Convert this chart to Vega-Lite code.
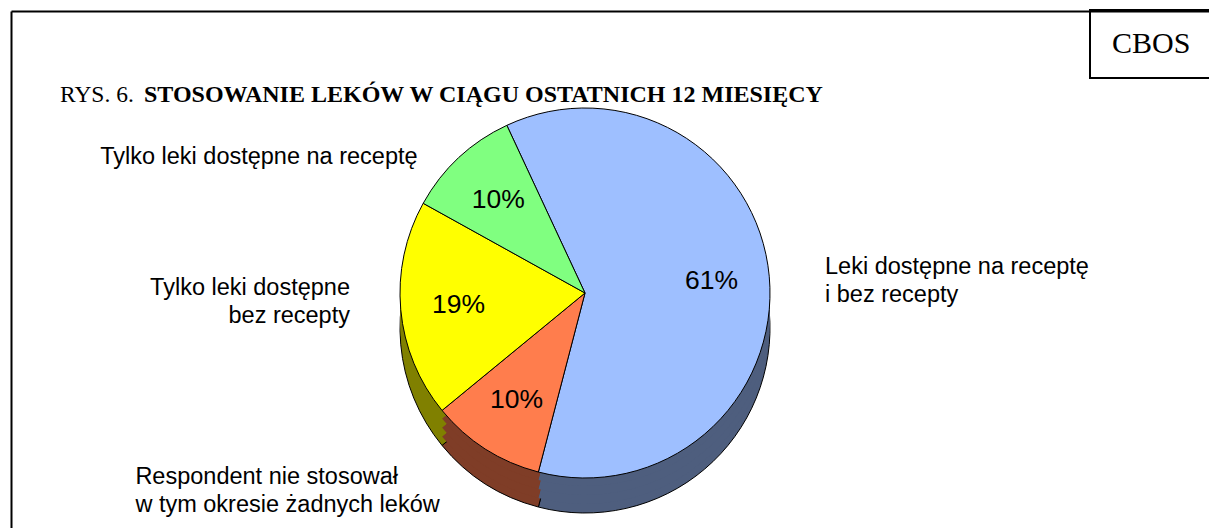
{
  "$schema": "https://vega.github.io/schema/vega-lite/v6.json",
  "width": 1198,
  "height": 517,
  "autosize": {"type": "none"},
  "padding": {"left": 11, "top": 11, "right": 0, "bottom": 0},
  "background": "white",
  "config": {"view": {"stroke": null}, "legend": {"strokeWidth": 2}},
  "title": {
    "text": "RYS. 6.",
    "subtitle": "\u200b\u00a0\u00a0\u00a0\u00a0\u00a0\u00a0\u00a0\u00a0\u00a0\u00a0\u00a0\u00a0\u00a0\u00a0STOSOWANIE LEKÓW W CIĄGU OSTATNICH 12 MIESIĘCY",
    "anchor": "start",
    "frame": "group",
    "orient": "top",
    "font": "Liberation Serif",
    "fontSize": 23.5,
    "fontWeight": "normal",
    "color": "black",
    "subtitleFont": "Liberation Serif",
    "subtitleFontSize": 24,
    "subtitleFontWeight": "bold",
    "subtitleColor": "black",
    "subtitlePadding": -24,
    "dx": 49,
    "offset": -98
  },
  "data": {
    "values": [
      {"ord": 1, "cat": "Leki dostępne na receptę i bez recepty", "value": 61, "pct": "61%", "label": "Leki dostępne na receptę\ni bez recepty"},
      {"ord": 2, "cat": "Respondent nie stosował w tym okresie żadnych leków", "value": 10, "pct": "10%", "label": "Respondent nie stosował\nw tym okresie żadnych leków"},
      {"ord": 3, "cat": "Tylko leki dostępne bez recepty", "value": 19, "pct": "19%", "label": "Tylko leki dostępne\nbez recepty"},
      {"ord": 4, "cat": "Tylko leki dostępne na receptę", "value": 10, "pct": "10%", "label": "Tylko leki dostępne na receptę"}
    ]
  },
  "layer": [
    {
      "data": {"values": [{"src": "CBOS"}]},
      "mark": {"type": "point", "opacity": 0},
      "encoding": {
        "x": {"datum": 0, "type": "quantitative", "scale": {"domain": [0, 1]},
              "axis": {"orient": "top", "domain": true, "domainColor": "black", "domainWidth": 2, "ticks": false, "labels": false, "grid": false, "title": null}},
        "y": {"datum": 0, "type": "quantitative", "scale": {"domain": [0, 1]},
              "axis": {"orient": "left", "domain": true, "domainColor": "black", "domainWidth": 2, "ticks": false, "labels": false, "grid": false, "title": null}},
        "shape": {"field": "src", "type": "nominal",
          "legend": {"title": null, "orient": "top-right", "offset": -1, "strokeColor": "black", "padding": 19,
                     "symbolSize": 0, "symbolStrokeWidth": 0, "symbolOpacity": 0, "labelOffset": -27,
                     "labelFont": "Liberation Serif", "labelFontSize": 30, "labelColor": "black"}}
      }
    },
    {
      "mark": {"type": "arc", "radius": 185, "xOffset": -25, "yOffset": 58.5, "stroke": "black", "strokeWidth": 1},
      "encoding": {
        "theta": {"field": "value", "type": "quantitative", "stack": true, "scale": {"range": [-0.43633, 5.84685]}},
        "order": {"field": "ord", "type": "quantitative"},
        "fill": {"field": "cat", "type": "nominal", "legend": null,
                 "scale": {"domain": ["Leki dostępne na receptę i bez recepty", "Respondent nie stosował w tym okresie żadnych leków", "Tylko leki dostępne bez recepty", "Tylko leki dostępne na receptę"],
                           "range": ["#4E5E7E", "#7F3D27", "#808000", "#408040"]}}
      }
    },
    {
      "mark": {"type": "arc", "radius": 185, "xOffset": -25, "yOffset": 49.5, "strokeWidth": 0},
      "encoding": {
        "theta": {"field": "value", "type": "quantitative", "stack": true},
        "order": {"field": "ord", "type": "quantitative"},
        "fill": {"field": "cat", "type": "nominal", "legend": null}
      }
    },
    {
      "mark": {"type": "arc", "radius": 185, "xOffset": -25, "yOffset": 40.5, "strokeWidth": 0},
      "encoding": {
        "theta": {"field": "value", "type": "quantitative", "stack": true},
        "order": {"field": "ord", "type": "quantitative"},
        "fill": {"field": "cat", "type": "nominal", "legend": null}
      }
    },
    {
      "mark": {"type": "arc", "radius": 185, "xOffset": -25, "yOffset": 31.5, "strokeWidth": 0},
      "encoding": {
        "theta": {"field": "value", "type": "quantitative", "stack": true},
        "order": {"field": "ord", "type": "quantitative"},
        "fill": {"field": "cat", "type": "nominal", "legend": null}
      }
    },
    {
      "mark": {"type": "arc", "radius": 185, "xOffset": -25, "yOffset": 23.5, "stroke": "black", "strokeWidth": 1},
      "encoding": {
        "theta": {"field": "value", "type": "quantitative", "stack": true},
        "order": {"field": "ord", "type": "quantitative"},
        "color": {"field": "cat", "type": "nominal", "legend": null,
                  "scale": {"domain": ["Leki dostępne na receptę i bez recepty", "Respondent nie stosował w tym okresie żadnych leków", "Tylko leki dostępne bez recepty", "Tylko leki dostępne na receptę"],
                            "range": ["#9EBFFF", "#FF7D4D", "#FFFF00", "#80FF80"]}}
      }
    },
    {
      "mark": {"type": "text", "radius": 127, "xOffset": -25, "yOffset": 23.5, "font": "Liberation Sans", "fontSize": 26.5, "color": "black", "align": "center", "baseline": "middle"},
      "encoding": {
        "theta": {"field": "value", "type": "quantitative", "stack": true},
        "order": {"field": "ord", "type": "quantitative"},
        "text": {"field": "pct", "type": "nominal"}
      }
    },
    {
      "mark": {"type": "text", "radius": 241, "xOffset": -25, "yOffset": 23.5, "dy": -4, "font": "Liberation Sans", "fontSize": 23.5, "lineHeight": 28, "lineBreak": "\n", "color": "black", "align": "left", "baseline": "middle"},
      "encoding": {
        "theta": {"field": "value", "type": "quantitative", "stack": true},
        "order": {"field": "ord", "type": "quantitative"},
        "text": {"condition": {"test": "datum.ord === 1", "field": "label", "type": "nominal"}, "value": ""}
      }
    },
    {
      "mark": {"type": "text", "radius": 235, "xOffset": -25, "yOffset": 23.5, "dx": -323, "dy": -14, "font": "Liberation Sans", "fontSize": 23.5, "lineHeight": 28, "lineBreak": "\n", "color": "black", "align": "left", "baseline": "middle"},
      "encoding": {
        "theta": {"field": "value", "type": "quantitative", "stack": true},
        "order": {"field": "ord", "type": "quantitative"},
        "text": {"condition": {"test": "datum.ord === 2", "field": "label", "type": "nominal"}, "value": ""}
      }
    },
    {
      "mark": {"type": "text", "radius": 236, "xOffset": -25, "yOffset": 23.5, "dy": -26, "font": "Liberation Sans", "fontSize": 23.5, "lineHeight": 28, "lineBreak": "\n", "color": "black", "align": "right", "baseline": "middle"},
      "encoding": {
        "theta": {"field": "value", "type": "quantitative", "stack": true},
        "order": {"field": "ord", "type": "quantitative"},
        "text": {"condition": {"test": "datum.ord === 3", "field": "label", "type": "nominal"}, "value": ""}
      }
    },
    {
      "mark": {"type": "text", "radius": 200, "xOffset": -25, "yOffset": 23.5, "dx": -31, "dy": 10, "font": "Liberation Sans", "fontSize": 23.5, "lineHeight": 28, "lineBreak": "\n", "color": "black", "align": "right", "baseline": "middle"},
      "encoding": {
        "theta": {"field": "value", "type": "quantitative", "stack": true},
        "order": {"field": "ord", "type": "quantitative"},
        "text": {"condition": {"test": "datum.ord === 4", "field": "label", "type": "nominal"}, "value": ""}
      }
    }
  ]
}
